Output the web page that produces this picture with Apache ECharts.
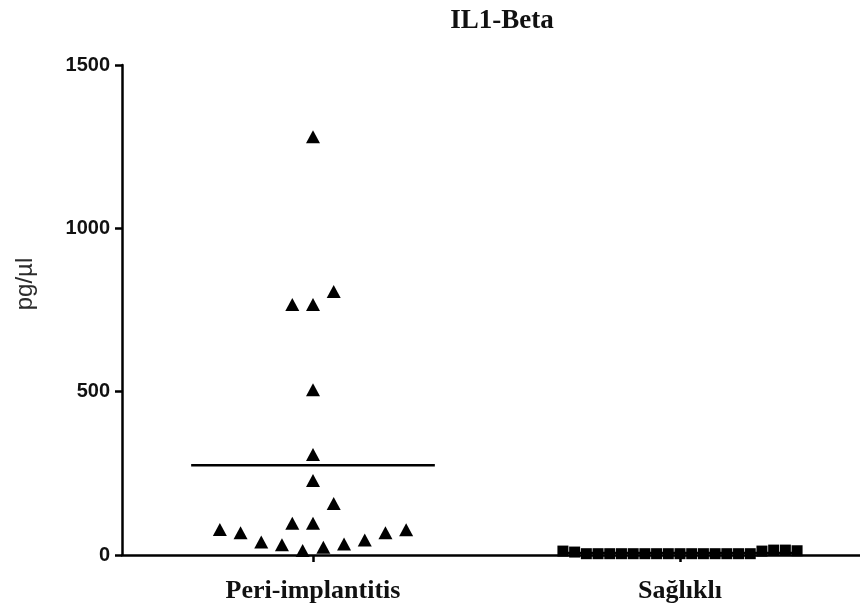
<!DOCTYPE html>
<html>
<head>
<meta charset="utf-8">
<script src="https://cdn.jsdelivr.net/npm/echarts@6/dist/echarts.min.js"></script>
<style>
  html, body { margin: 0; padding: 0; background: #ffffff; }
  #chart { width: 860px; height: 615px; }
</style>
</head>
<body>
<div id="chart"></div>
<script>
// IL1-Beta concentrations (pg/µl) per group
const groups = ['Peri-implantitis', 'Sağlıklı'];

const periValues = [1280, 767, 767, 807, 506, 308, 228, 158, 97, 97,
                    78, 68, 40, 31, 14, 24, 34, 46, 68, 77];
// horizontal spread slot of each point inside its column
const periSlots  = [0, -1, 0, 1, 0, 0, 0, 1, -1, 0,
                    -4.5, -3.5, -2.5, -1.5, -0.5, 0.5, 1.5, 2.5, 3.5, 4.5];

const saglikliValues = [12, 9, 4, 4, 4, 4, 4, 4, 4, 4, 4,
                        4, 4, 4, 4, 4, 4, 12, 15, 15, 13];
const saglikliSlots  = [-10, -9, -8, -7, -6, -5, -4, -3, -2, -1, 0,
                        1, 2, 3, 4, 5, 6, 7, 8, 9, 10];

const yTicks = [0, 500, 1000, 1500];

// column geometry (in x-axis units; one unit = distance between columns)
const PERI_STEP = 0.0564;
const SAG_STEP = 0.0319;
const MEAN_HALF = 0.332;

const mean = arr => arr.reduce((a, b) => a + b, 0) / arr.length;

function columnPoints(center, values, slots, step) {
  return values.map((v, i) => [center + slots[i] * step, v]);
}
function meanLine(center, values) {
  const m = mean(values);
  return [[center - MEAN_HALF, m], [center + MEAN_HALF, m]];
}

const chart = echarts.init(document.getElementById('chart'), null, { renderer: 'canvas' });

chart.setOption({
  animation: false,
  backgroundColor: '#ffffff',
  title: {
    text: 'IL1-Beta',
    left: 497,
    top: 3,
    textAlign: 'center',
    textStyle: {
      fontFamily: 'Liberation Serif',
      fontWeight: 'bold',
      fontSize: 27,
      color: '#111111'
    }
  },
  graphic: [{
    type: 'text',
    x: 25,
    y: 284,
    rotation: Math.PI / 2,
    style: {
      text: 'pg/µl',
      fontFamily: 'Liberation Sans',
      fontSize: 24,
      fill: '#2b2b2b',
      textAlign: 'center',
      textVerticalAlign: 'middle'
    }
  }],
  grid: { left: 122, right: 0, top: 65, bottom: 60, containLabel: false },
  xAxis: {
    type: 'value',
    min: 1 - 191 / 367,
    max: 2 + 180 / 367,
    splitLine: { show: false },
    axisLine: { show: true, onZero: false, lineStyle: { color: '#000', width: 2.5 } },
    axisTick: {
      show: true,
      customValues: [1, 2],
      length: 7,
      lineStyle: { color: '#000', width: 2.5 }
    },
    axisLabel: {
      show: true,
      customValues: [1, 2],
      formatter: v => groups[Math.round(v) - 1],
      margin: 23,
      fontFamily: 'Liberation Serif',
      fontWeight: 'bold',
      fontSize: 26,
      color: '#111111'
    }
  },
  yAxis: {
    type: 'value',
    min: yTicks[0],
    max: yTicks[yTicks.length - 1],
    interval: 500,
    splitLine: { show: false },
    axisLine: { show: true, lineStyle: { color: '#000', width: 2.5 } },
    axisTick: { show: true, length: 7, lineStyle: { color: '#000', width: 2.5 } },
    axisLabel: {
      margin: 12,
      formatter: v => String(v),
      fontFamily: 'Liberation Sans',
      fontWeight: 'bold',
      fontSize: 20,
      color: '#111111'
    }
  },
  series: [
    {
      type: 'line',
      data: meanLine(1, periValues),
      showSymbol: false,
      lineStyle: { color: '#000', width: 2.5 },
      z: 1
    },
    {
      type: 'line',
      data: meanLine(2, saglikliValues),
      showSymbol: false,
      lineStyle: { color: '#000', width: 2.5 },
      z: 1
    },
    {
      type: 'scatter',
      data: columnPoints(1, periValues, periSlots, PERI_STEP),
      symbol: 'triangle',
      symbolSize: [14, 13],
      itemStyle: { color: '#000000', opacity: 1 },
      clip: false,
      z: 3
    },
    {
      type: 'scatter',
      data: columnPoints(2, saglikliValues, saglikliSlots, SAG_STEP),
      symbol: 'rect',
      symbolSize: 11,
      itemStyle: { color: '#000000', opacity: 1 },
      clip: false,
      z: 3
    }
  ]
});
</script>
</body>
</html>
